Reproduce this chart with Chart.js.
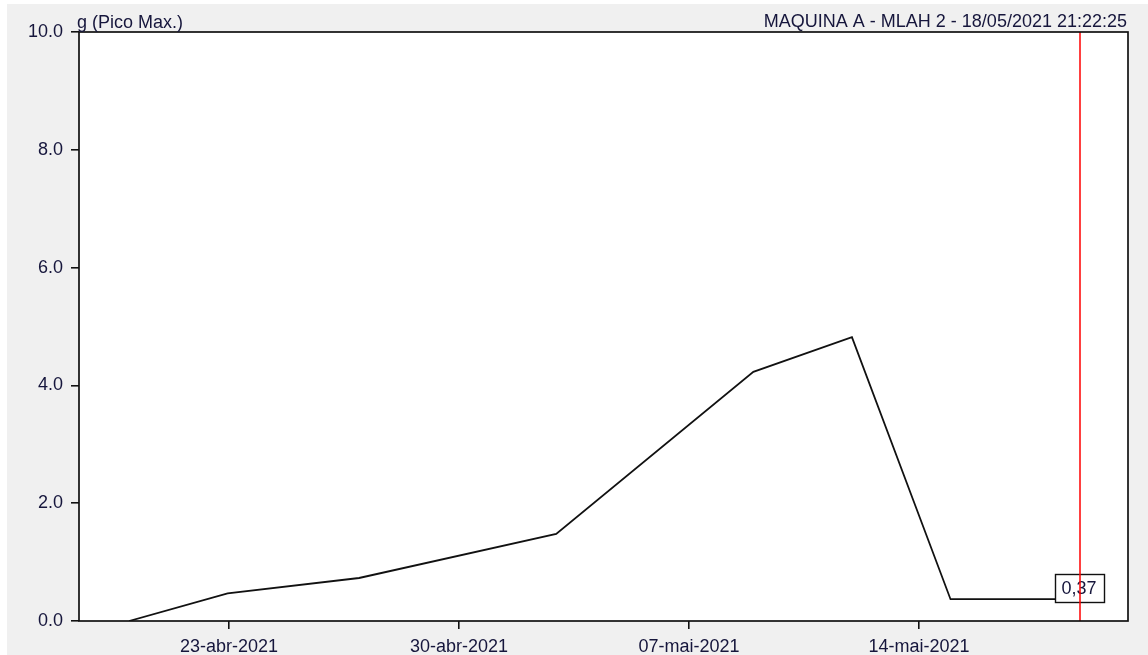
<!DOCTYPE html>
<html>
<head>
<meta charset="utf-8">
<title>g (Pico Max.)</title>
<script src="https://cdn.jsdelivr.net/npm/chart.js@4.4.0/dist/chart.umd.min.js"></script>
<style>
  html, body { margin: 0; padding: 0; background: #fff; overflow: hidden; }
  #chart { position: absolute; left: 7px; top: 4px; background: #f0f0f0; }
</style>
</head>
<body>
<canvas id="chart" width="1141" height="651"></canvas>
<script>
// Peak readings (g) per measurement
const measureTimes = [
  "2021-04-19T23:00:00",
  "2021-04-22T23:00:00",
  "2021-04-26T23:00:00",
  "2021-05-02T23:00:00",
  "2021-05-08T23:00:00",
  "2021-05-11T23:00:00",
  "2021-05-14T23:00:00",
  "2021-05-18T21:22:25",
];
const peakValues = [0.0, 0.47, 0.73, 1.48, 4.23, 4.82, 0.37, 0.37];

const tickDates = ["2021-04-23T00:00:00", "2021-04-30T00:00:00", "2021-05-07T00:00:00", "2021-05-14T00:00:00"];
const tickLabels = ["23-abr-2021", "30-abr-2021", "07-mai-2021", "14-mai-2021"];

const unitLabel = "g (Pico Max.)";
const headerLabel = "MAQUINA A - MLAH 2 - 18/05/2021 21:22:25";
const cursorTime = "2021-05-18T21:22:25";

const FONT_FAMILY = "'Liberation Sans', Arial, sans-serif";
const FONT_SIZE = 18;
const TEXT_COLOR = "#16163c";
const LINE_COLOR = "#111";

const DAY = 86400000;
const ORIGIN = Date.parse("2021-04-23T00:00:00Z");
const toDay = (s) => (Date.parse(s + "Z") - ORIGIN) / DAY;

// white plot area, frame, cursor line, value box and header texts
const framePlugin = {
  id: "frame",
  beforeDraw(chart) {
    const { ctx, chartArea: a } = chart;
    ctx.save();
    ctx.fillStyle = "#fff";
    ctx.fillRect(a.left, a.top, a.right - a.left, a.bottom - a.top);
    ctx.restore();
  },
  afterDatasetsDraw(chart) {
    const { ctx, chartArea: a, scales } = chart;
    const last = peakValues[peakValues.length - 1];
    const cx = Math.round(scales.x.getPixelForValue(toDay(cursorTime)));
    const py = scales.y.getPixelForValue(last);
    const font = FONT_SIZE + "px " + FONT_FAMILY;

    ctx.save();
    ctx.font = font;
    const txt = last.toFixed(2).replace(".", ",");
    const w = Math.round(ctx.measureText(txt).width + 14);
    const h = 28;
    const bx = Math.round(cx - w / 2) - 0.5;
    const by = Math.round(py - 11 - h / 2) + 0.5;
    ctx.fillStyle = "#fff";
    ctx.fillRect(bx, by, w, h);
    ctx.strokeStyle = LINE_COLOR;
    ctx.lineWidth = 1.4;
    ctx.strokeRect(bx, by, w, h);
    ctx.fillStyle = TEXT_COLOR;
    ctx.textAlign = "center";
    ctx.textBaseline = "middle";
    ctx.fillText(txt, cx - 1, by + h / 2 + 1);

    // cursor
    ctx.strokeStyle = "#ff0000";
    ctx.lineWidth = 1.5;
    ctx.beginPath();
    ctx.moveTo(cx, a.top);
    ctx.lineTo(cx, a.bottom);
    ctx.stroke();

    // frame
    ctx.strokeStyle = LINE_COLOR;
    ctx.lineWidth = 1.7;
    ctx.strokeRect(a.left, a.top, a.right - a.left, a.bottom - a.top);

    // header texts
    ctx.fillStyle = TEXT_COLOR;
    ctx.textBaseline = "alphabetic";
    ctx.textAlign = "left";
    ctx.fillText(unitLabel, a.left - 2, a.top - 4);
    ctx.textAlign = "right";
    ctx.fillText(headerLabel, a.right - 1, a.top - 5);
    ctx.restore();
  },
};

new Chart(document.getElementById("chart"), {
  type: "scatter",
  data: {
    datasets: [
      {
        data: measureTimes.map((t, i) => ({ x: toDay(t), y: peakValues[i] })),
        showLine: true,
        borderColor: LINE_COLOR,
        borderWidth: 1.8,
        pointRadius: 0,
        tension: 0,
      },
    ],
  },
  options: {
    responsive: false,
    animation: false,
    devicePixelRatio: 1,
    layout: { autoPadding: false, padding: { top: 28, right: 20, left: 0, bottom: 0 } },
    plugins: { legend: { display: false }, tooltip: { enabled: false } },
    scales: {
      x: {
        type: "linear",
        min: -4.565,
        max: 27.36,
        afterFit: (scale) => { scale.height = 34; },
        afterBuildTicks: (scale) => {
          scale.ticks = tickDates.map((d) => ({ value: toDay(d) }));
        },
        border: { display: false },
        grid: { drawOnChartArea: false, drawTicks: true, tickLength: 8, color: LINE_COLOR, lineWidth: 1.6 },
        ticks: {
          autoSkip: false,
          maxRotation: 0,
          padding: 7,
          color: TEXT_COLOR,
          font: { family: FONT_FAMILY, size: FONT_SIZE },
          callback: (v) => {
            const i = tickDates.findIndex((d) => Math.abs(toDay(d) - v) < 1e-6);
            return i >= 0 ? tickLabels[i] : "";
          },
        },
      },
      y: {
        min: 0,
        max: 10,
        afterFit: (scale) => { scale.width = 72; },
        border: { display: false },
        grid: { drawOnChartArea: false, drawTicks: true, tickLength: 8, color: LINE_COLOR, lineWidth: 1.6 },
        ticks: {
          stepSize: 2,
          padding: 8,
          color: TEXT_COLOR,
          font: { family: FONT_FAMILY, size: FONT_SIZE },
          callback: (v) => v.toFixed(1),
        },
      },
    },
  },
  plugins: [framePlugin],
});
</script>
</body>
</html>
